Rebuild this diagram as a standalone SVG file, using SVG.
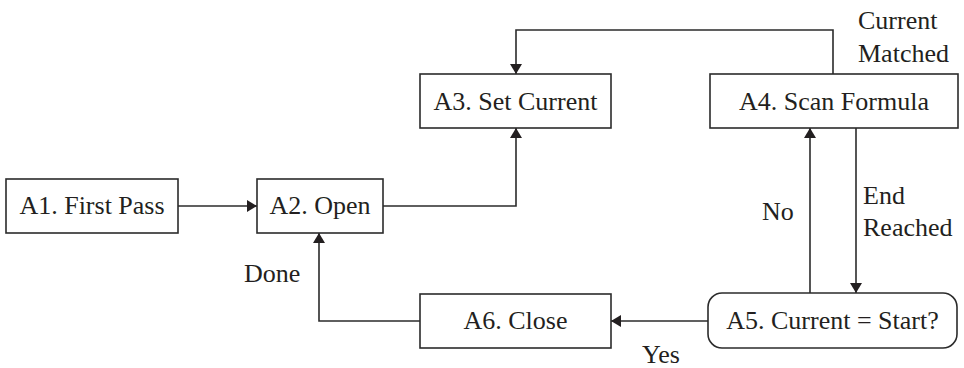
<svg xmlns="http://www.w3.org/2000/svg" width="964" height="368" viewBox="0 0 964 368">
<style>
  .box { fill: #ffffff; stroke: #2b2b2b; stroke-width: 1.6; }
  .lbl { font-family: "Liberation Serif", "Times New Roman", serif; font-size: 26px; fill: #231f20; }
  .mid { text-anchor: middle; }
  .conn { fill: none; stroke: #2b2b2b; stroke-width: 1.6; }
</style>
<defs>
  <marker id="arr" viewBox="0 0 10 12" refX="10" refY="6" markerWidth="10" markerHeight="12" orient="auto" markerUnits="userSpaceOnUse">
    <path d="M0,0 L10,6 L0,12 z" fill="#231f20"/>
  </marker>
</defs>
<rect width="964" height="368" fill="#ffffff"/>
<g id="connectors">
  <path class="conn" d="M178,206 L257,206" marker-end="url(#arr)"/>
  <path class="conn" d="M383,206 L516,206 L516,128" marker-end="url(#arr)"/>
  <path class="conn" d="M833,74 L833,30 L516,30 L516,74" marker-end="url(#arr)"/>
  <path class="conn" d="M856,128 L856,293" marker-end="url(#arr)"/>
  <path class="conn" d="M810,293 L810,128" marker-end="url(#arr)"/>
  <path class="conn" d="M708,321 L611,321" marker-end="url(#arr)"/>
  <path class="conn" d="M420,321 L319,321 L319,233" marker-end="url(#arr)"/>
  <text class="lbl" x="858" y="29">Current</text>
  <text class="lbl" x="858" y="62">Matched</text>
  <text class="lbl" x="762" y="220">No</text>
  <text class="lbl" x="863" y="204">End</text>
  <text class="lbl" x="863" y="236">Reached</text>
  <text class="lbl" x="244" y="282">Done</text>
  <text class="lbl" x="642" y="363">Yes</text>
</g>
<g id="A1">
  <rect class="box" x="6" y="179" width="172" height="54"/>
  <text class="lbl mid" x="92" y="214">A1. First Pass</text>
</g>
<g id="A2">
  <rect class="box" x="257" y="179" width="126" height="54"/>
  <text class="lbl mid" x="320" y="214">A2. Open</text>
</g>
<g id="A3">
  <rect class="box" x="420" y="74" width="191" height="54"/>
  <text class="lbl mid" x="515.5" y="110">A3. Set Current</text>
</g>
<g id="A4">
  <rect class="box" x="710" y="74" width="248" height="54"/>
  <text class="lbl mid" x="834" y="110">A4. Scan Formula</text>
</g>
<g id="A5">
  <rect class="box" x="708" y="293" width="249" height="55" rx="14" ry="14"/>
  <text class="lbl mid" x="832.5" y="329">A5. Current = Start?</text>
</g>
<g id="A6">
  <rect class="box" x="420" y="294" width="191" height="54"/>
  <text class="lbl mid" x="515.5" y="329">A6. Close</text>
</g>
</svg>
